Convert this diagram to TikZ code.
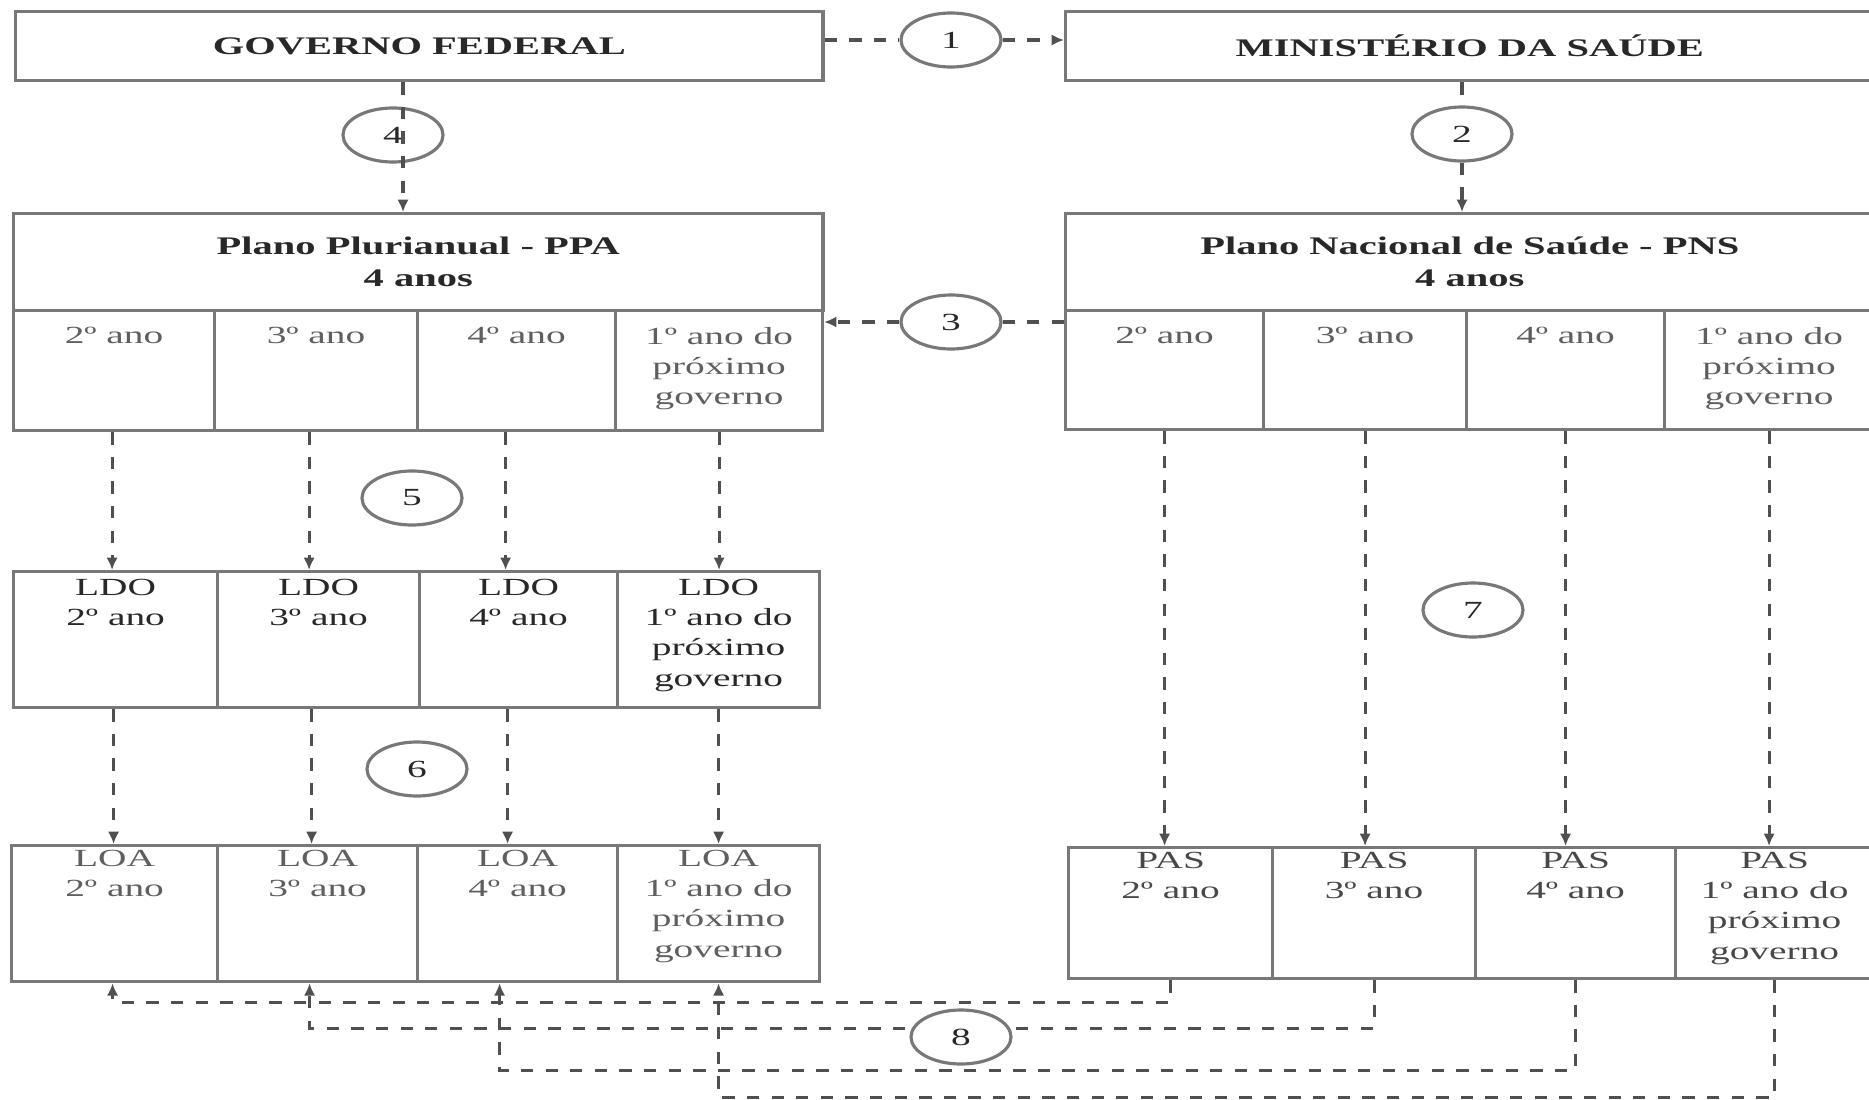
\documentclass[tikz,border=0pt]{standalone}
\usepackage{fontspec}
\setmainfont[FakeStretch=1.6]{Liberation Serif}
\usetikzlibrary{arrows.meta,positioning,shapes.geometric}

\definecolor{boxgray}{RGB}{120,120,120}
\definecolor{flowgray}{RGB}{80,80,80}
\definecolor{darktext}{RGB}{40,40,40}
\definecolor{softtext}{RGB}{95,95,95}

\tikzset{
  box/.style={draw=boxgray, line width=0.9pt, inner sep=0pt, anchor=north west},
  headtext/.style={font=\bfseries\fontsize{7.2}{9.1}\selectfont, text=darktext, align=center},
  celltext/.style={anchor=north, align=center, inner sep=1.5pt, font=\fontsize{7}{8.6}\selectfont, text=softtext},
  num/.style={ellipse, draw=boxgray, line width=0.9pt, fill=white, minimum width=1cm, minimum height=0.54cm, inner sep=0pt, font=\fontsize{7}{8}\selectfont, text=darktext},
  flow/.style={draw=flowgray, line width=0.9pt, dash pattern=on 3.5pt off 3.5pt},
  flowto/.style={-{Latex[length=3.5pt,width=3.2pt]}}
}

\begin{document}
\begin{tikzpicture}[x=0.01cm,y=-0.01cm]
  \useasboundingbox (0,0) rectangle (1869,1100);
  \clip (0,0) rectangle (1869,1100);

  % top boxes
  \node[box, headtext, minimum width=8.07cm, minimum height=0.69cm] (gov) at (14,10) {GOVERNO FEDERAL};
  \node[box, headtext, minimum width=8.08cm, minimum height=0.69cm] (min) at (1064,10) {MINISTÉRIO DA SAÚDE};

  % plans, 4 years
  \node[box, headtext, minimum width=8.09cm, minimum height=0.97cm] (ppa) at (12,212) {Plano Plurianual - PPA\\4 anos};
  \node[box, headtext, minimum width=8.08cm, minimum height=0.97cm] (pns) at (1064,212) {Plano Nacional de Saúde - PNS\\4 anos};

  \foreach \i/\xl/\xr/\txt in {1/12/213/{2º ano}, 2/213/416/{3º ano}, 3/416/614/{4º ano}, 4/614/821/{1º ano do\\próximo\\governo}} {
    \node[box, minimum width={(\xr-\xl)*0.01cm}, minimum height=1.2cm] (ppa\i) at (\xl,309) {};
    \node[celltext] (ppa\i txt) at ([yshift=-0.12cm]ppa\i.north) {\txt};
  }
  \foreach \i/\xl/\xr/\txt in {1/1064/1262/{2º ano}, 2/1262/1465/{3º ano}, 3/1465/1663/{4º ano}, 4/1663/1872/{1º ano do\\próximo\\governo}} {
    \node[box, minimum width={(\xr-\xl)*0.01cm}, minimum height=1.19cm] (pns\i) at (\xl,309) {};
    \node[celltext] (pns\i txt) at ([yshift=-0.12cm]pns\i.north) {\txt};
  }

  % LDO, LOA and PAS rows
  \foreach \i/\xl/\xr/\txt in {1/12/216/{2º ano}, 2/216/418/{3º ano}, 3/418/616/{4º ano}, 4/616/818/{1º ano do\\próximo\\governo}} {
    \node[box, minimum width={(\xr-\xl)*0.01cm}, minimum height=1.36cm] (ldo\i) at (\xl,570) {};
    \node[celltext, text=darktext] (ldo\i txt) at ([yshift=-0.03cm]ldo\i.north) {LDO\\\txt};
  }
  \foreach \i/\xl/\xr/\txt in {1/10/216/{2º ano}, 2/216/416/{3º ano}, 3/416/616/{4º ano}, 4/616/818/{1º ano do\\próximo\\governo}} {
    \node[box, minimum width={(\xr-\xl)*0.01cm}, minimum height=1.36cm] (loa\i) at (\xl,844) {};
    \node[celltext] (loa\i txt) at (loa\i.north) {LOA\\\txt};
  }
  \foreach \i/\xl/\xr/\txt in {1/1067/1271/{2º ano}, 2/1271/1474/{3º ano}, 3/1474/1674/{4º ano}, 4/1674/1872/{1º ano do\\próximo\\governo}} {
    \node[box, minimum width={(\xr-\xl)*0.01cm}, minimum height=1.31cm] (pas\i) at (\xl,846) {};
    \node[celltext, text=darktext!85] (pas\i txt) at (pas\i.north) {PAS\\\txt};
  }

  % numbered steps
  \node[num] (c1) at (951,40) {1};
  \node[num] (c2) at (1462,134) {2};
  \node[num] (c3) at (951,322) {3};
  \node[num] (c4) at (393,135) {4};
  \node[num] (c5) at (412,498) {5};
  \node[num] (c6) at (417,769) {6};
  \node[num] (c7) at (1473,610) {7};

  \draw[flow] (gov.east |- c1) -- (c1);
  \draw[flow,flowto] (c1) -- (min.west |- c1);
  \draw[flow] (c2 |- min.south) -- (c2);
  \draw[flow,flowto] (c2) -- (c2 |- pns.north);
  \draw[flow] (pns1.west |- c3) -- (c3);
  \draw[flow,flowto] (c3) -- (ppa4.east |- c3);
  \draw[flow,flowto] ([xshift=0.1cm]gov.south -| c4) -- ([xshift=0.1cm]ppa.north -| c4); % runs through 4

  \foreach \i/\dx in {1/-2,2/-7,3/-11,4/0} {
    \draw[flow,flowto] ([xshift=\dx*0.01cm]ppa\i.south) -- ([xshift=\dx*0.01cm]ppa\i.south |- ldo\i.north);
    \draw[flow,flowto] ([xshift=\dx*0.01cm]ldo\i.south) -- ([xshift=\dx*0.01cm]ldo\i.south |- loa\i.north);
  }
  \foreach \i in {1,...,4}
    \draw[flow,flowto] (pns\i.south) -- (pns\i.south |- pas\i.north);

  % PAS back to LOA
  \draw[flow,flowto] (pas1.south) -- ++(0,22) -| ([xshift=-0.02cm]loa1.south);
  \draw[flow,flowto] (pas2.south) -- ++(0,48) -| ([xshift=-0.08cm]loa2.south);
  \draw[flow,flowto] (pas3.south) -- ++(0,90) -| ([xshift=-0.18cm]loa3.south);
  \draw[flow,flowto] (pas4.south) -- ++(0,117) -| (loa4.south);
  \node[num] (c8) at (961,1037) {8};
\end{tikzpicture}
\end{document}
